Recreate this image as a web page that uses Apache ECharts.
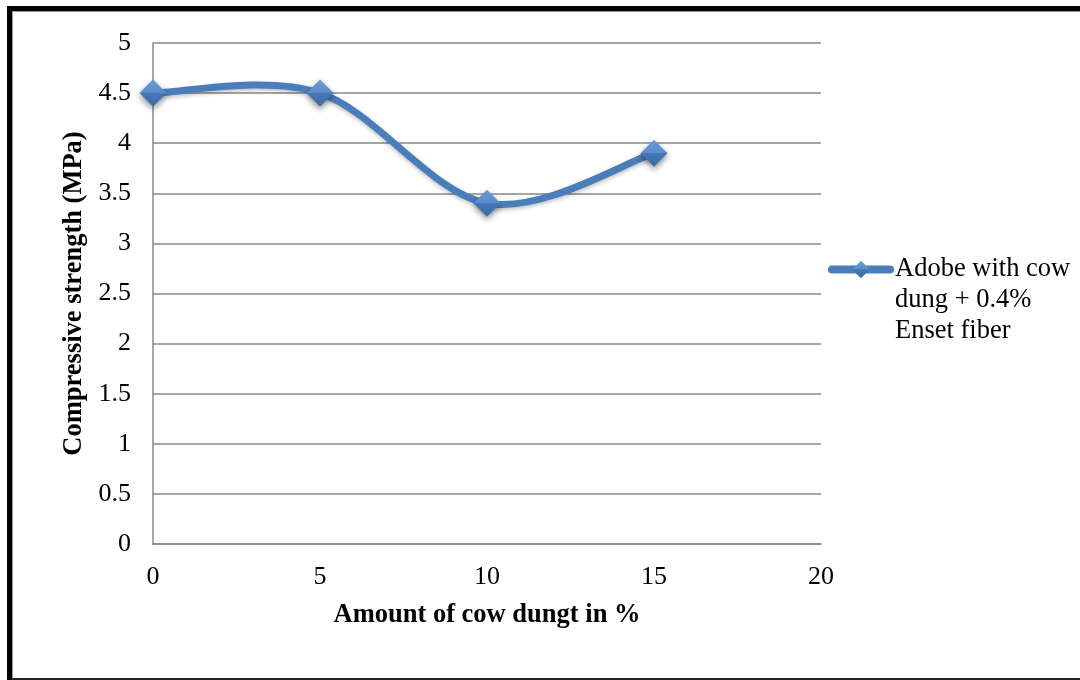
<!DOCTYPE html>
<html>
<head>
<meta charset="utf-8">
<script src="https://cdn.jsdelivr.net/npm/echarts@6/dist/echarts.min.js"></script>
<style>
html,body{margin:0;padding:0;background:#fff;}
#chart{width:1080px;height:680px;}
</style>
</head>
<body>
<div id="chart"></div>
<script>
const cowDung = [0, 5, 10, 15];
const strength = [4.5, 4.5, 3.4, 3.9];
const seriesName = 'Adobe with cow\ndung + 0.4%\nEnset fiber';
const xTitle = 'Amount of cow dungt in %';
const yTitle = 'Compressive strength (MPa)';

const FONT = '"Liberation Serif", "Times New Roman", serif';
const LINE_COLOR = '#4a7ebb';
const points = cowDung.map((x, i) => [x, strength[i]]);

// Smooth path through the data points (Catmull-Rom style Bezier, like a spreadsheet "smoothed line")
function smoothPath(api) {
  const p = points.map(d => api.coord(d));
  let d = 'M' + p[0][0] + ' ' + p[0][1];
  for (let i = 0; i < p.length - 1; i++) {
    const p0 = p[i - 1] || p[i], p1 = p[i], p2 = p[i + 1], p3 = p[i + 2] || p[i + 1];
    const c1 = [p1[0] + (p2[0] - p0[0]) / 6, p1[1] + (p2[1] - p0[1]) / 6];
    const c2 = [p2[0] - (p3[0] - p1[0]) / 6, p2[1] - (p3[1] - p1[1]) / 6];
    d += ' C' + c1[0] + ' ' + c1[1] + ' ' + c2[0] + ' ' + c2[1] + ' ' + p2[0] + ' ' + p2[1];
  }
  return d;
}

const chart = echarts.init(document.getElementById('chart'), null, {renderer: 'canvas'});
chart.setOption({
  animation: false,
  backgroundColor: '#fff',
  textStyle: {fontFamily: FONT},
  graphic: [
    {type: 'rect', shape: {x: 7, y: 6, width: 1073, height: 5}, style: {fill: '#000'}, z: 100},
    {type: 'rect', shape: {x: 12, y: 11, width: 1068, height: 1}, style: {fill: '#999'}, z: 100},
    {type: 'rect', shape: {x: 7, y: 6, width: 5, height: 674}, style: {fill: '#000'}, z: 100},
    {type: 'rect', shape: {x: 12, y: 11, width: 1, height: 669}, style: {fill: '#999'}, z: 100},
    {type: 'rect', shape: {x: 12, y: 678, width: 1068, height: 2}, style: {fill: '#222'}, z: 100}
  ],
  grid: {left: 153, top: 43, width: 668, height: 501, containLabel: false},
  legend: {
    left: 828, top: 192, padding: 0,
    orient: 'vertical',
    itemWidth: 58, itemHeight: 22,
    data: [seriesName],
    formatter: name => '\n\n' + name,
    lineStyle: {width: 8, cap: 'round', color: LINE_COLOR, opacity: 1},
    textStyle: {fontFamily: FONT, fontSize: 26.5, color: '#000', lineHeight: 31}
  },
  xAxis: {
    type: 'value', min: 0, max: 20, interval: 5,
    name: xTitle, nameLocation: 'middle', nameGap: 58,
    nameTextStyle: {fontFamily: FONT, fontSize: 26.5, fontWeight: 'bold', color: '#000'},
    axisLine: {show: true, lineStyle: {color: '#888', width: 1.5}},
    axisTick: {show: false},
    axisLabel: {fontFamily: FONT, fontSize: 26, color: '#000', margin: 20},
    splitLine: {show: false}
  },
  yAxis: {
    type: 'value', min: 0, max: 5, interval: 0.5,
    name: yTitle, nameLocation: 'middle', nameGap: 65, nameRotate: 90,
    nameTextStyle: {fontFamily: FONT, fontSize: 26.5, fontWeight: 'bold', color: '#000'},
    axisLine: {show: true, lineStyle: {color: '#888', width: 1.5}},
    axisTick: {show: false},
    axisLabel: {fontFamily: FONT, fontSize: 26, color: '#000', margin: 22},
    splitLine: {show: true, lineStyle: {color: '#888', width: 1.5}}
  },
  series: [{
    type: 'custom',
    name: 'curve',
    data: points,
    encode: {x: 0, y: 1},
    silent: true,
    z: 4,
    renderItem: (params, api) => {
      if (params.dataIndex !== 0) return null;
      return {
        type: 'path',
        shape: {pathData: smoothPath(api)},
        style: {fill: 'none', stroke: LINE_COLOR, lineWidth: 7, lineCap: 'round', lineJoin: 'round',
          shadowColor: 'rgba(0,0,0,0.25)', shadowBlur: 4, shadowOffsetY: 2}
      };
    }
  }, {
    name: seriesName,
    type: 'line',
    data: points,
    symbol: 'diamond',
    symbolSize: 27,
    lineStyle: {color: LINE_COLOR, width: 7, opacity: 0},
    itemStyle: {
      color: new echarts.graphic.LinearGradient(0, 0, 0, 1, [
        {offset: 0, color: '#6a9ad6'}, {offset: 0.5, color: '#5a8ccc'},
        {offset: 0.5, color: '#4677b6'}, {offset: 1, color: '#3b6aa6'}
      ]),
      borderWidth: 0,
      shadowColor: 'rgba(0,0,0,0.45)', shadowBlur: 6, shadowOffsetY: 3
    },
    z: 5
  }]
});
</script>
</body>
</html>
